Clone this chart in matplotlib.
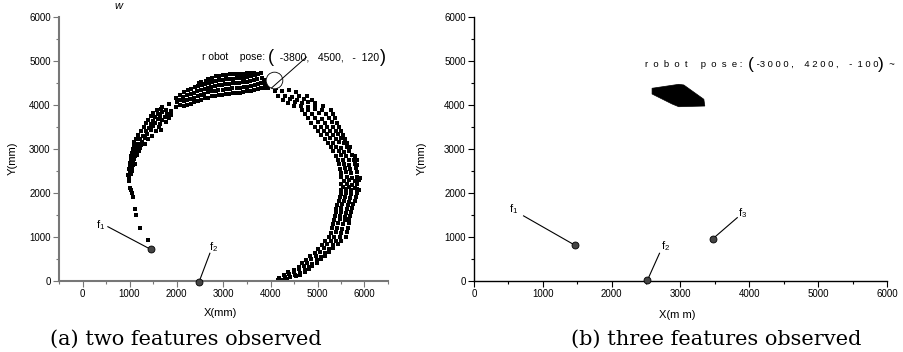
import matplotlib
matplotlib.use("Agg")
import matplotlib.pyplot as plt
from matplotlib import transforms
from matplotlib.ticker import MultipleLocator

plt.rcParams['font.family'] = ['Liberation Sans', 'DejaVu Sans']
plt.rcParams['mathtext.fontset'] = 'custom'
plt.rcParams['mathtext.rm'] = 'Liberation Sans'
plt.rcParams['mathtext.it'] = 'Liberation Sans:italic'

#%% data (mm)
# (a) estimated robot positions, two features observed
arc_pts = [
    # tail near f1
    (1390, 930), (1230, 1200), (1130, 1500), (1110, 1640), (1080, 1900),
    (1050, 2000), (1040, 2060), (1010, 2120), (990, 2270), (985, 2330),
    # left side
    (970, 2400), (1040, 2430), (990, 2550), (1060, 2580),
    (1010, 2690), (1080, 2720), (1120, 2660),
    (1040, 2850), (1110, 2830), (1170, 2870),
    (1070, 3000), (1150, 2980), (1230, 3020),
    (1100, 3150), (1180, 3120), (1260, 3160), (1320, 3110),
    (1190, 3320), (1280, 3300), (1370, 3340), (1470, 3300),
    (1310, 3510), (1410, 3480), (1510, 3520), (1620, 3490), (1680, 3440),
    (1400, 3660), (1500, 3640), (1600, 3680), (1700, 3650), (1780, 3620),
    (1500, 3820), (1600, 3800), (1700, 3840), (1800, 3790), (1890, 3780),
    (1000, 2480), (1050, 2500), (1000, 2620), (1070, 2640), (1030, 2770),
    (1100, 2780), (1060, 2920), (1140, 2920), (1200, 2950), (1090, 3070),
    (1170, 3060), (1250, 3080), (1140, 3230), (1230, 3230), (1320, 3250),
    (1400, 3220), (1250, 3410), (1350, 3400), (1450, 3430), (1560, 3400),
    (1350, 3580), (1450, 3570), (1550, 3600), (1650, 3570), (1450, 3740),
    (1550, 3730), (1650, 3760), (1750, 3720), (1840, 3700), (1580, 3880),
    (1680, 3900), (1780, 3880), (1880, 3870),
    # top
    (1980, 3950), (2010, 4060), (1990, 4170), (1700, 3950), (1830, 4030),
    (2150, 3970), (2160, 4080), (2140, 4190), (2170, 4290),
    (2300, 4030), (2290, 4140), (2310, 4250), (2300, 4370),
    (2450, 4100), (2460, 4210), (2440, 4320), (2450, 4430), (2470, 4490),
    (2600, 4150), (2590, 4260), (2610, 4370), (2600, 4480), (2620, 4550),
    (2750, 4200), (2760, 4310), (2740, 4420), (2760, 4530), (2750, 4620),
    (2900, 4230), (2890, 4340), (2910, 4450), (2900, 4560), (2910, 4670),
    (3050, 4250), (3060, 4360), (3040, 4470), (3060, 4580), (3050, 4690),
    (3200, 4270), (3190, 4380), (3210, 4490), (3200, 4600), (3210, 4700),
    (3350, 4280), (3360, 4390), (3340, 4500), (3360, 4610), (3350, 4700),
    (3500, 4310), (3490, 4420), (3510, 4530), (3500, 4640), (3510, 4720),
    (3650, 4350), (3660, 4460), (3640, 4570), (3660, 4680), (3650, 4730),
    (3800, 4390), (3790, 4500), (3810, 4610), (3800, 4720),
    (3950, 4390), (3940, 4480), (4100, 4310), (4120, 4380),
    (2075, 4010), (2080, 4120), (2070, 4230),
    (2225, 4000), (2230, 4110), (2220, 4220), (2235, 4330),
    (2375, 4060), (2380, 4170), (2370, 4280), (2385, 4400),
    (2525, 4120), (2530, 4235), (2520, 4345), (2535, 4460), (2530, 4530),
    (2675, 4170), (2680, 4285), (2670, 4395), (2685, 4505), (2680, 4590),
    (2825, 4210), (2830, 4325), (2820, 4435), (2835, 4545), (2830, 4650),
    (2975, 4235), (2980, 4350), (2970, 4460), (2985, 4570), (2980, 4690),
    (3125, 4255), (3130, 4370), (3120, 4480), (3135, 4590), (3130, 4710),
    (3275, 4275), (3280, 4385), (3270, 4495), (3285, 4605), (3280, 4715),
    (3425, 4290), (3430, 4405), (3420, 4515), (3435, 4625), (3430, 4715),
    (3575, 4325), (3580, 4440), (3570, 4550), (3585, 4660), (3580, 4735),
    (3725, 4365), (3730, 4480), (3720, 4590), (3735, 4700),
    (3870, 4390), (3880, 4470), (3870, 4560),
    # right side
    (4150, 4200), (4300, 4210), (4450, 4190), (4600, 4200), (4780, 4210),
    (4250, 4320), (4400, 4330), (4550, 4300),
    (4380, 4050), (4520, 4060), (4660, 4040), (4800, 4060), (4950, 4050),
    (4660, 3890), (4800, 3880), (4950, 3900), (5100, 3880), (5280, 3890),
    (4800, 3700), (4950, 3710), (5100, 3690), (5250, 3710), (5380, 3700),
    (4940, 3500), (5070, 3510), (5200, 3490), (5340, 3510), (5460, 3500),
    (5080, 3320), (5200, 3330), (5320, 3310), (5440, 3330), (5540, 3320),
    (5230, 3140), (5340, 3130), (5450, 3150), (5560, 3130), (5620, 3140),
    (5340, 2950), (5450, 2960), (5560, 2940), (5680, 2960),
    (5440, 2750), (5550, 2760), (5660, 2740), (5780, 2760), (5830, 2740),
    (5480, 2550), (5590, 2560), (5700, 2540), (5820, 2560),
    (5510, 2360), (5620, 2370), (5730, 2350), (5850, 2370), (5900, 2350),
    (5510, 2200), (5620, 2210), (5730, 2190), (5850, 2210),
    (5500, 2070), (5610, 2080), (5720, 2060), (5840, 2080), (5890, 2060),
    (5470, 1900), (5580, 1910), (5690, 1890), (5810, 1910),
    (5420, 1730), (5530, 1740), (5640, 1720), (5760, 1740),
    (5390, 1560), (5500, 1570), (5610, 1550), (5720, 1570),
    (5360, 1390), (5470, 1400), (5580, 1380), (5680, 1400),
    (5310, 1200), (5420, 1210), (5530, 1190), (5640, 1210),
    (5250, 1000), (5360, 1010), (5470, 990), (5600, 1010),
    (5100, 820), (5210, 830), (5320, 810), (5430, 830),
    (4940, 640), (5050, 650), (5160, 630), (5250, 650),
    (4760, 480), (4870, 490), (4980, 470), (5070, 490),
    (4600, 320), (4710, 330), (4820, 310), (4880, 330),
    (4380, 200), (4500, 210), (4620, 190), (4740, 210),
    (4180, 60), (4300, 80), (4420, 90), (4540, 110), (4620, 130),
    (4170, 20), (4260, 30), (4350, 40),
    (4260, 4120), (4420, 4130), (4570, 4110), (4720, 4130), (4880, 4125),
    (4500, 3970), (4650, 3980), (4800, 3960), (4950, 3980), (5120, 3970),
    (4730, 3800), (4880, 3790), (5030, 3810), (5180, 3790), (5330, 3800),
    (4870, 3600), (5010, 3610), (5150, 3590), (5300, 3610), (5420, 3600),
    (5010, 3410), (5140, 3420), (5270, 3400), (5390, 3420), (5500, 3410),
    (5150, 3230), (5270, 3240), (5390, 3220), (5500, 3240), (5590, 3230),
    (5280, 3040), (5400, 3050), (5510, 3030), (5620, 3050), (5690, 3040),
    (5390, 2850), (5500, 2860), (5610, 2840), (5730, 2860), (5790, 2840),
    (5460, 2650), (5570, 2660), (5680, 2640), (5800, 2660), (5850, 2640),
    (5500, 2460), (5610, 2470), (5720, 2450), (5840, 2470),
    (5560, 2280), (5670, 2290), (5790, 2270), (5890, 2290),
    (5550, 2130), (5670, 2140), (5790, 2120),
    (5490, 1980), (5600, 1990), (5720, 1970), (5840, 1990),
    (5450, 1810), (5560, 1820), (5670, 1800), (5790, 1820),
    (5400, 1640), (5510, 1650), (5620, 1630), (5740, 1650),
    (5370, 1470), (5480, 1480), (5590, 1460), (5700, 1480),
    (5330, 1300), (5440, 1310), (5550, 1290), (5660, 1310),
    (5280, 1100), (5390, 1110), (5500, 1090), (5620, 1110),
    (5170, 910), (5280, 920), (5390, 900), (5510, 920),
    (5020, 730), (5130, 740), (5240, 720), (5340, 740),
    (4850, 560), (4960, 570), (5070, 550), (5160, 570),
    (4670, 400), (4780, 410), (4890, 390), (4980, 410),
    (4490, 260), (4610, 270), (4730, 250), (4820, 270),
    (4280, 140), (4400, 150), (4520, 140),
]
arc_x = [p[0] for p in arc_pts]
arc_y = [p[1] for p in arc_pts]

feat_a_x = [1450, 2480]
feat_a_y = [720, -20]
feat_a_lbl = ['f$_1$', 'f$_2$']
feat_a_lblpos = [(380, 1270), (2790, 760)]
feat_a_linestart = [(540, 1234), (2710, 630)]
pose_a = (4064, 4568)
pose_a_line = [(4021, 4386), (4766, 5090)]
pose_a_text = ['r obot    pose: ', '(', '  -3800,   4500,   -  120', ')']
pose_a_textpos = (2550, 5080)

# (b) three features observed
blob_x = [2587, 2975, 3048, 3339, 3353, 2975, 2878, 2587]
blob_y = [4380, 4470, 4455, 4130, 3977, 3961, 4023, 4250]
feat_b_x = [1470, 2520, 3470]
feat_b_y = [810, 20, 960]
feat_b_lbl = ['f$_1$', 'f$_2$', 'f$_3$']
feat_b_lblpos = [(580, 1640), (2780, 800), (3900, 1550)]
feat_b_linestart = [(720, 1480), (2695, 630), (3825, 1440)]
pose_b_text = ['r  o  b  o  t     p  o  s  e :  ', '(', ' -3 0 0 0 ,    4 2 0 0 ,    -  1 0 0', ')', '  ~']
pose_b_textpos = (2490, 4930)

#%% helpers
def pieceText(ax, x, y, pieces, sizes, renderer):
    t = ax.transData
    for s, fs in zip(pieces, sizes):
        txt = ax.text(x, y, s, transform=t, fontsize=fs, ha='left', va='center',
                      clip_on=False)
        txt.draw(renderer)
        ex = txt.get_window_extent(renderer)
        t = transforms.offset_copy(txt.get_transform(), x=ex.width, units='dots')

def styleAxis(ax, spcol, splw):
    for s in ['top', 'right']:
        ax.spines[s].set_visible(False)
    for s in ['left', 'bottom']:
        ax.spines[s].set_color(spcol)
        ax.spines[s].set_linewidth(splw)
    ax.xaxis.set_major_locator(MultipleLocator(1000))
    ax.xaxis.set_minor_locator(MultipleLocator(500))
    ax.yaxis.set_major_locator(MultipleLocator(1000))
    ax.yaxis.set_minor_locator(MultipleLocator(500))
    ax.tick_params(which='major', length=4, width=0.8, color=spcol, labelsize=7, pad=2)
    ax.tick_params(which='minor', length=2.5, width=0.8, color=spcol)

#%% figure
fig = plt.figure(figsize=(9.04, 3.52), dpi=100)
renderer = fig.canvas.get_renderer()

ax1 = fig.add_axes([59/904, 71/352, 329/904, 264/352])
styleAxis(ax1, '#777777', 1.5)
ax1.set_xlim(-500, 6500)
ax1.set_ylim(0, 6000)
ax1.scatter(arc_x, arc_y, marker='s', s=10.5, c='black', linewidths=0, zorder=2)
for (lx, ly), (sx, sy), fx, fy, lb in zip(feat_a_lblpos, feat_a_linestart,
                                          feat_a_x, feat_a_y, feat_a_lbl):
    ax1.plot([sx, fx], [sy, fy], color='black', lw=0.8, clip_on=False, zorder=3)
    ax1.text(lx, ly, lb, fontsize=8, ha='center', va='center')
ax1.plot(feat_a_x, feat_a_y, 'o', ms=5, mfc='#444444', mec='black', mew=0.6,
         clip_on=False, zorder=4)
ax1.plot(pose_a[0], pose_a[1], 'o', ms=12, mfc='white', mec='black', mew=0.6, zorder=3)
ax1.plot([p[0] for p in pose_a_line], [p[1] for p in pose_a_line], color='black',
         lw=0.7, zorder=4)
pieceText(ax1, pose_a_textpos[0], pose_a_textpos[1], pose_a_text, [7.5, 13, 7.5, 13],
          renderer)

ax2 = fig.add_axes([474/904, 71/352, 413/904, 264/352])
styleAxis(ax2, 'black', 1.0)
ax2.set_xlim(0, 6000)
ax2.set_ylim(0, 6000)
ax2.fill(blob_x, blob_y, color='black', lw=0.5, zorder=2)
for (lx, ly), (sx, sy), fx, fy, lb in zip(feat_b_lblpos, feat_b_linestart,
                                          feat_b_x, feat_b_y, feat_b_lbl):
    ax2.plot([sx, fx], [sy, fy], color='black', lw=0.8, clip_on=False, zorder=3)
    ax2.text(lx, ly, lb, fontsize=8, ha='center', va='center')
ax2.plot(feat_b_x, feat_b_y, 'o', ms=5, mfc='#444444', mec='black', mew=0.6,
         clip_on=False, zorder=4)
pieceText(ax2, pose_b_textpos[0], pose_b_textpos[1], pose_b_text,
          [6.8, 12.5, 6.8, 12.5, 6.8], renderer)

# axis labels
fig.text(220/904, 1 - 313/352, 'X(mm)', fontsize=8, ha='center', va='center')
fig.text(677/904, 1 - 315/352, 'X(m m)', fontsize=8, ha='center', va='center')
fig.text(13/904, 1 - 158/352, 'Y(mm)', fontsize=8, ha='center', va='center', rotation=90)
fig.text(422/904, 1 - 158/352, 'Y(mm)', fontsize=8, ha='center', va='center', rotation=90)

# captions
fig.text(186/904, 1 - 339/352, '(a) two features observed', fontsize=15,
         family='DejaVu Serif', ha='center', va='center')
fig.text(716/904, 1 - 339/352, '(b) three features observed', fontsize=15,
         family='DejaVu Serif', ha='center', va='center')
fig.text(118/904, 0.998, 'w', fontsize=8, style='italic', ha='center', va='top')

fig.savefig('out.png', dpi=100)
